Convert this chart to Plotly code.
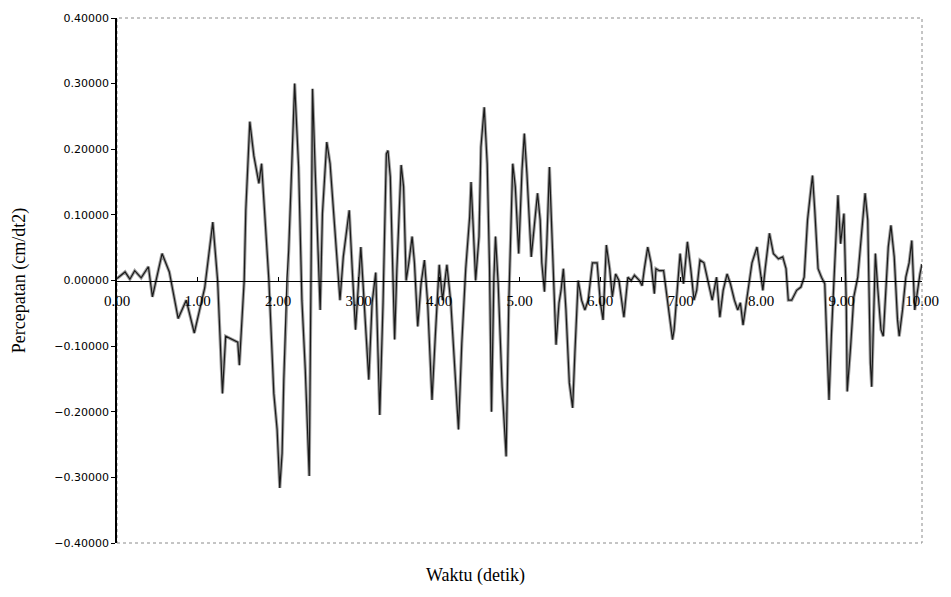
import plotly.graph_objects as go

# time (detik) and acceleration values
waktu = [
    0.00, 0.05, 0.10, 0.16, 0.22, 0.30, 0.39, 0.44, 0.50, 0.56, 0.65, 0.76, 0.86, 0.96,
    1.09, 1.19, 1.25, 1.31, 1.35, 1.43, 1.50, 1.52, 1.55, 1.58, 1.60, 1.65, 1.70,
    1.763, 1.796, 1.846, 1.887, 1.948, 1.989, 2.022, 2.051, 2.072, 2.112, 2.133, 2.174,
    2.207, 2.256, 2.297, 2.339, 2.388, 2.413, 2.429, 2.462, 2.495, 2.524, 2.552, 2.606,
    2.647, 2.709, 2.770, 2.811, 2.885, 2.922, 2.963, 3.029, 3.070, 3.128, 3.169, 3.214,
    3.264, 3.305, 3.346,
    3.366, 3.395, 3.420, 3.449, 3.477, 3.502, 3.530, 3.560, 3.592, 3.625, 3.666, 3.695,
    3.736, 3.777, 3.819, 3.859, 3.913, 3.954, 4.003, 4.044, 4.098, 4.147, 4.189, 4.242,
    4.283, 4.332, 4.381, 4.398, 4.423, 4.455, 4.497, 4.521, 4.562, 4.599, 4.628, 4.652,
    4.682, 4.702, 4.735, 4.784, 4.834, 4.867, 4.916, 4.948, 4.990,
    5.031, 5.060, 5.092, 5.146, 5.183, 5.224, 5.257, 5.277, 5.310, 5.339, 5.372, 5.401,
    5.421, 5.454, 5.491, 5.516, 5.545, 5.577, 5.619, 5.660, 5.688, 5.729, 5.771, 5.812,
    5.853, 5.906, 5.964, 6.005, 6.038, 6.079, 6.120, 6.153, 6.194, 6.235, 6.297, 6.346,
    6.387, 6.428, 6.490, 6.523, 6.551, 6.593, 6.634, 6.675,
    6.695, 6.736, 6.790, 6.831, 6.872, 6.901, 6.921, 6.963, 6.995, 7.037, 7.086, 7.127,
    7.168, 7.201, 7.242, 7.291, 7.341, 7.394, 7.448, 7.489, 7.530, 7.579, 7.620, 7.670,
    7.711, 7.744, 7.777, 7.834, 7.888, 7.950, 7.990, 8.023, 8.052, 8.105, 8.154, 8.216,
    8.270, 8.311, 8.339,
    8.381, 8.443, 8.496, 8.536, 8.578, 8.619, 8.640, 8.668, 8.709, 8.751, 8.792, 8.825,
    8.845, 8.874, 8.915, 8.956, 8.989, 9.030, 9.059, 9.071, 9.112, 9.153, 9.202, 9.244,
    9.293, 9.326, 9.359, 9.375, 9.400, 9.421, 9.449, 9.490, 9.519, 9.552, 9.581, 9.614,
    9.655, 9.696, 9.717, 9.758, 9.799, 9.840, 9.873, 9.910, 9.942, 9.975, 10.00,
]
percepatan = [
    0.003, 0.008, 0.013, 0.002, 0.015, 0.004, 0.021, -0.025, 0.010, 0.041, 0.013, -0.058, -0.030, -0.080,
    -0.011, 0.089, 0.000, -0.172, -0.085, -0.090, -0.094, -0.129, -0.060, 0.000, 0.107, 0.242, 0.190,
    0.148, 0.178, 0.077, 0.000, -0.172, -0.227, -0.316, -0.263, -0.151, 0.003, 0.046, 0.178,
    0.300, 0.173, -0.030, -0.136, -0.298, 0.046, 0.292, 0.168, 0.051, -0.045, 0.102, 0.211,
    0.178, 0.072, -0.030, 0.036, 0.107, 0.018, -0.075, 0.051, -0.034, -0.151, -0.034, 0.012,
    -0.205, -0.034, 0.193,
    0.198, 0.158, 0.036, -0.090, 0.018, 0.107, 0.176, 0.143, 0.000, 0.027, 0.067, 0.027,
    -0.070, -0.005, 0.031, -0.034, -0.182, -0.085, 0.024, -0.030, 0.024, -0.034, -0.126, -0.227,
    -0.096, 0.018, 0.097, 0.150, 0.087, 0.000, 0.067, 0.203, 0.264, 0.178, 0.018, -0.200,
    0.005, 0.067, -0.005, -0.162, -0.268, -0.034, 0.178, 0.143, 0.041,
    0.168, 0.224, 0.163, 0.036, 0.082, 0.133, 0.092, 0.027, -0.017, 0.056, 0.173, 0.087,
    0.000, -0.098, -0.034, -0.015, 0.018, -0.045, -0.156, -0.194, -0.111, 0.000, -0.030, -0.045,
    -0.030, 0.027, 0.027, -0.034, -0.060, 0.054, 0.018, -0.025, 0.010, 0.000, -0.056, 0.005,
    0.000, 0.008, 0.000, -0.008, 0.018, 0.051, 0.027, -0.020,
    0.018, 0.015, 0.015, -0.025, -0.060, -0.090, -0.075, -0.005, 0.041, -0.005, 0.059, 0.018,
    -0.030, -0.015, 0.031, 0.027, 0.000, -0.030, 0.005, -0.056, -0.015, 0.010, -0.005, -0.030,
    -0.045, -0.034, -0.068, -0.015, 0.027, 0.051, 0.018, -0.015, 0.018, 0.072, 0.041, 0.033,
    0.036, 0.018, -0.030,
    -0.030, -0.015, -0.010, 0.005, 0.092, 0.138, 0.160, 0.107, 0.018, 0.005, -0.005, -0.116,
    -0.182, -0.085, 0.027, 0.130, 0.056, 0.102, -0.034, -0.169, -0.103, -0.025, 0.005, 0.067,
    0.133, 0.092, -0.126, -0.162, -0.045, 0.041, -0.010, -0.075, -0.085, -0.010, 0.051, 0.084,
    0.036, -0.060, -0.085, -0.045, 0.005, 0.027, 0.061, -0.045, -0.015, 0.010, 0.025,
]

x_tickvals = [0, 1, 2, 3, 4, 5, 6, 7, 8, 9, 10]
x_ticktext = ["0.00", "1.00", "2.00", "3.00", "4.00", "5.00", "6.00", "7.00", "8.00", "9.00", "10.00"]
y_tickvals = [-0.4, -0.3, -0.2, -0.1, 0.0, 0.1, 0.2, 0.3, 0.4]

fig = go.Figure()
fig.add_trace(go.Scatter(x=waktu, y=percepatan, mode="lines",
                         line=dict(color="#a0a0a0", width=3.2), hoverinfo="skip", showlegend=False))
fig.add_trace(go.Scatter(x=waktu, y=percepatan, mode="lines",
                         line=dict(color="#1a1a1a", width=1.2), showlegend=False))

fig.update_layout(
    width=951, height=597,
    margin=dict(l=117, r=23, t=17, b=54),
    paper_bgcolor="white", plot_bgcolor="white",
    xaxis=dict(range=[0, 10], anchor="free", position=0.5,
               tickvals=x_tickvals, ticktext=x_ticktext,
               showline=True, linecolor="black", linewidth=1,
               ticks="inside", ticklen=4, tickcolor="black",
               ticklabelstandoff=6,
               showgrid=False, zeroline=False,
               tickfont=dict(family="Liberation Serif", size=15, color="black")),
    yaxis=dict(range=[-0.4, 0.4], tickvals=y_tickvals, tickformat=".5f",
               showline=True, linecolor="black", linewidth=1.5,
               ticks="outside", ticklen=4, tickcolor="black",
               showgrid=False, zeroline=False,
               tickfont=dict(family="DejaVu Sans", size=11, color="black"),
               title=dict(text="Percepatan (cm/dt2)", standoff=24,
                          font=dict(family="Liberation Serif", size=18, color="black"))),
    shapes=[dict(type="rect", xref="paper", yref="paper", x0=0, x1=1, y0=0, y1=1,
                 line=dict(color="#8a8a8a", width=1, dash="dot"), layer="below")],
    annotations=[dict(text="Waktu (detik)", xref="paper", yref="paper", x=0.445, y=0,
                      yshift=-32, xanchor="center", yanchor="middle", showarrow=False,
                      font=dict(family="Liberation Serif", size=18, color="black"))],
)

fig.write_html("out.html")
